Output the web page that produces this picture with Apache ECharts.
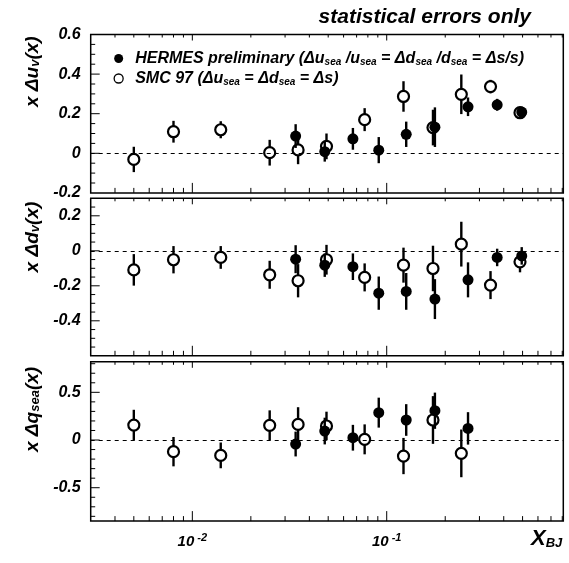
<!DOCTYPE html>
<html><head><meta charset="utf-8">
<script src="https://cdn.jsdelivr.net/npm/echarts@6/dist/echarts.min.js"></script>
<style>html,body{margin:0;padding:0;background:#fff}#c{width:569px;height:563px}</style>
</head><body><div id="c"></div>
<script>
// ---- data ----
const xSMC = [0.005, 0.008, 0.014, 0.025, 0.035, 0.049, 0.077, 0.122, 0.173, 0.242, 0.342, 0.485];
const xHERMES = [0.034, 0.048, 0.067, 0.091, 0.126, 0.177, 0.262, 0.37, 0.495];

const uSMC    = [-0.031, 0.109, 0.119, 0.003, 0.017, 0.035, 0.170, 0.287, 0.130, 0.298, 0.337, 0.205];
const uSMCerr = [0.064, 0.055, 0.043, 0.065, 0.072, 0.065, 0.058, 0.077, 0.090, 0.100, 0.034, 0.030];
const uHER    = [0.087, 0.008, 0.073, 0.016, 0.096, 0.132, 0.235, 0.245, 0.208];
const uHERerr = [0.060, 0.050, 0.055, 0.066, 0.064, 0.100, 0.047, 0.030, 0.025];

const dSMC    = [-0.109, -0.051, -0.038, -0.137, -0.171, -0.051, -0.152, -0.082, -0.101, 0.038, -0.196, -0.063];
const dSMCerr = [0.090, 0.078, 0.065, 0.080, 0.095, 0.085, 0.080, 0.100, 0.130, 0.128, 0.080, 0.060];
const dHER    = [-0.048, -0.082, -0.091, -0.242, -0.232, -0.276, -0.166, -0.038, -0.029];
const dHERerr = [0.080, 0.067, 0.076, 0.095, 0.105, 0.114, 0.100, 0.050, 0.050];

const qSMC    = [0.157, -0.122, -0.161, 0.154, 0.164, 0.147, 0.007, -0.168, 0.210, -0.140];
const qSMCerr = [0.160, 0.154, 0.135, 0.157, 0.180, 0.150, 0.157, 0.190, 0.250, 0.250];
const qHER    = [-0.042, 0.094, 0.024, 0.287, 0.210, 0.307, 0.122];
const qHERerr = [0.130, 0.140, 0.135, 0.157, 0.166, 0.190, 0.170];

// tick values
const xMajorTicks = [0.01, 0.1];
const xMinorTicks = [0.004, 0.005, 0.006, 0.007, 0.008, 0.009, 0.02, 0.03, 0.04, 0.05, 0.06, 0.07, 0.08, 0.09, 0.2, 0.3, 0.4, 0.5, 0.6, 0.7, 0.8];
const y1Major = [0, 0.2, 0.4];
const y1Minor = [-0.15, -0.1, -0.05, 0.05, 0.1, 0.15, 0.25, 0.3, 0.35, 0.45, 0.5, 0.55];
const y2Major = [-0.4, -0.2, 0, 0.2];
const y2Minor = [-0.55, -0.5, -0.45, -0.35, -0.3, -0.25, -0.15, -0.1, -0.05, 0.05, 0.1, 0.15, 0.25];
const y3Major = [-0.5, 0, 0.5];
const y3Minor = [-0.8, -0.7, -0.6, -0.4, -0.3, -0.2, -0.1, 0.1, 0.2, 0.3, 0.4, 0.6, 0.7, 0.8];

const X_MIN = 0.003, X_MAX = 0.81;
const FONT = "'Liberation Sans', Arial, Helvetica, sans-serif";

const panels = [
  { top: 34.5, height: 158.4, min: -0.2, max: 0.6, interval: 0.2,
    name: 'x Δu{s|v}(x)', pad: 84,
    smc: uSMC, smcE: uSMCerr, her: uHER, herE: uHERerr, yMaj: y1Major, yMin: y1Minor },
  { top: 198.3, height: 157.5, min: -0.6, max: 0.3, interval: 0.2,
    name: 'x Δd{s|v}(x)', pad: 80,
    smc: dSMC, smcE: dSMCerr, her: dHER, herE: dHERerr, yMaj: y2Major, yMin: y2Minor },
  { top: 361.8, height: 159.3, min: -0.85, max: 0.82, interval: 0.05,
    name: 'x Δq{s|sea}(x)', pad: 64,
    smc: qSMC, smcE: qSMCerr, her: qHER, herE: qHERerr, yMaj: y3Major, yMin: y3Minor }
];

const chart = echarts.init(document.getElementById('c'), null, { renderer: 'canvas' });

const grid = [], xAxis = [], yAxis = [], series = [];

function errRender(params, api) {
  const x = api.value(0), y = api.value(1), e = api.value(2);
  const a = api.coord([x, y + e]), b = api.coord([x, y - e]);
  return { type: 'line', shape: { x1: a[0], y1: a[1], x2: b[0], y2: b[1] },
           style: { stroke: '#000', lineWidth: 2.4 } };
}
function tickRender(params, api) {
  const cs = params.coordSys;
  const kind = api.value(2);
  const p = api.coord([api.value(0), api.value(1)]);
  if (kind < 2) {
    const len = kind === 0 ? 10 : 5, lt = kind === 0 ? 6 : 3;
    const b = cs.y + cs.height;
    return { type: 'group', children: [
      { type: 'line', shape: { x1: p[0], y1: b, x2: p[0], y2: b - len }, style: { stroke: '#000', lineWidth: 1 } },
      { type: 'line', shape: { x1: p[0], y1: cs.y, x2: p[0], y2: cs.y + lt }, style: { stroke: '#000', lineWidth: 1 } }
    ] };
  }
  const len = kind === 2 ? 9 : 4.5;
  return { type: 'line', shape: { x1: cs.x, y1: p[1], x2: cs.x + len, y2: p[1] }, style: { stroke: '#000', lineWidth: 1 } };
}

panels.forEach((P, i) => {
  grid.push({ left: 90.7, right: 5.7, top: P.top, height: P.height, show: true,
              borderColor: '#000', borderWidth: 1.5, backgroundColor: 'transparent' });
  const last = i === 2;
  xAxis.push({
    type: 'log', logBase: 10, gridIndex: i, min: X_MIN, max: X_MAX,
    axisLine: { show: false }, axisTick: { show: false }, splitLine: { show: false }, minorTick: { show: false },
    axisLabel: {
      show: last, margin: 11, showMinLabel: false, showMaxLabel: false,
      formatter: v => { const l = Math.log10(v), r = Math.round(l); return Math.abs(l - r) < 1e-6 ? '{b|10}{s|' + r + '}' : ''; },
      rich: {
        b: { fontFamily: FONT, fontSize: 15, fontWeight: 'bold', fontStyle: 'italic', color: '#000', lineHeight: 20 },
        s: { fontFamily: FONT, fontSize: 11, fontWeight: 'bold', fontStyle: 'italic', color: '#000', verticalAlign: 'top', padding: [0, 0, 0, 3] }
      }
    }
  });
  yAxis.push({
    type: 'value', gridIndex: i, min: P.min, max: P.max, interval: P.interval,
    axisLine: { show: false }, axisTick: { show: false }, splitLine: { show: false },
    axisLabel: {
      margin: 10, fontFamily: FONT, fontSize: 16, fontWeight: 'bold', fontStyle: 'italic', color: '#000',
      showMinLabel: i === 0, showMaxLabel: i === 0,
      formatter: v => {
        const m = i === 2 ? 0.5 : 0.2;
        const k = v / m;
        if (Math.abs(k - Math.round(k)) > 1e-6) return '';
        const r = Math.round(k) * m;
        return String(Math.round(r * 10) / 10);
      }
    },
    name: P.name, nameLocation: 'middle', nameGap: 48, nameRotate: 90,
    nameTextStyle: {
      fontFamily: FONT, fontSize: 19, fontWeight: 'bold', fontStyle: 'italic', color: '#000',
      padding: [0, 0, 0, P.pad],
      rich: { s: { fontFamily: FONT, fontSize: 13, fontWeight: 'bold', fontStyle: 'italic', color: '#000', verticalAlign: 'bottom' } }
    }
  });

  // tick marks
  const tickData = [];
  xMajorTicks.forEach(v => tickData.push([v, P.min, 0]));
  xMinorTicks.forEach(v => tickData.push([v, P.min, 1]));
  P.yMaj.forEach(v => tickData.push([X_MIN, v, 2]));
  P.yMin.forEach(v => tickData.push([X_MIN, v, 3]));
  series.push({ type: 'custom', xAxisIndex: i, yAxisIndex: i, silent: true, z: 1,
                renderItem: tickRender, data: tickData, encode: { x: 0, y: 1 } });

  const smcData = P.smc.map((y, k) => [xSMC[k], y, P.smcE[k]]);
  const herData = P.her.map((y, k) => [xHERMES[k], y, P.herE[k]]);

  series.push({ type: 'custom', xAxisIndex: i, yAxisIndex: i, silent: true, z: 2,
                renderItem: errRender, data: smcData, encode: { x: 0, y: 1 } });
  series.push({ type: 'scatter', name: 'SMC', xAxisIndex: i, yAxisIndex: i, z: 3,
                symbol: 'circle', symbolSize: 11,
                itemStyle: { color: '#fff', borderColor: '#000', borderWidth: 2.2, opacity: 1 },
                data: smcData.map(d => [d[0], d[1]]),
                markLine: { silent: true, symbol: 'none', label: { show: false },
                            lineStyle: { type: [4, 4], color: '#000', width: 1 },
                            data: [{ yAxis: 0 }] } });
  series.push({ type: 'custom', xAxisIndex: i, yAxisIndex: i, silent: true, z: 4,
                renderItem: errRender, data: herData, encode: { x: 0, y: 1 } });
  series.push({ type: 'scatter', name: 'HERMES', xAxisIndex: i, yAxisIndex: i, z: 5,
                symbol: 'circle', symbolSize: 11,
                itemStyle: { color: '#000', borderColor: '#000', borderWidth: 0, opacity: 1 },
                data: herData.map(d => [d[0], d[1]]) });
});

const subStyle = { fontFamily: FONT, fontSize: 10, fontWeight: 'bold', fontStyle: 'italic', color: '#000', verticalAlign: 'bottom' };
const legendText = {
  HERMES: 'HERMES preliminary (Δu{s|sea} /u{s|sea} = Δd{s|sea} /d{s|sea} = Δs/s)',
  SMC: 'SMC 97 (Δu{s|sea} = Δd{s|sea} = Δs)'
};

chart.setOption({
  animation: false,
  backgroundColor: '#fff',
  title: { text: 'statistical errors only', right: 33, top: 2,
           textStyle: { fontFamily: FONT, fontSize: 21, fontWeight: 'bold', fontStyle: 'italic', color: '#000' } },
  legend: {
    orient: 'vertical', left: 113.5, top: 49.5, padding: 0, itemGap: 2, itemWidth: 9, itemHeight: 9,
    selectedMode: false,
    data: [
      { name: 'HERMES', icon: 'circle', itemStyle: { color: '#000', borderWidth: 0 } },
      { name: 'SMC', icon: 'circle', itemStyle: { color: '#fff', borderColor: '#000', borderWidth: 1.3 } }
    ],
    formatter: n => legendText[n],
    textStyle: { fontFamily: FONT, fontSize: 16, fontWeight: 'bold', fontStyle: 'italic', color: '#000',
                 lineHeight: 18, padding: [0, 0, 0, 7], rich: { s: subStyle } }
  },
  graphic: [{
    type: 'text', left: 531, top: 528,
    style: { text: '{a|X}{b|BJ}',
             rich: { a: { fontFamily: FONT, fontSize: 22, fontWeight: 'bold', fontStyle: 'italic', fill: '#000' },
                     b: { fontFamily: FONT, fontSize: 13, fontWeight: 'bold', fontStyle: 'italic', fill: '#000', verticalAlign: 'bottom' } } }
  }],
  grid, xAxis, yAxis, series
});
</script></body></html>
